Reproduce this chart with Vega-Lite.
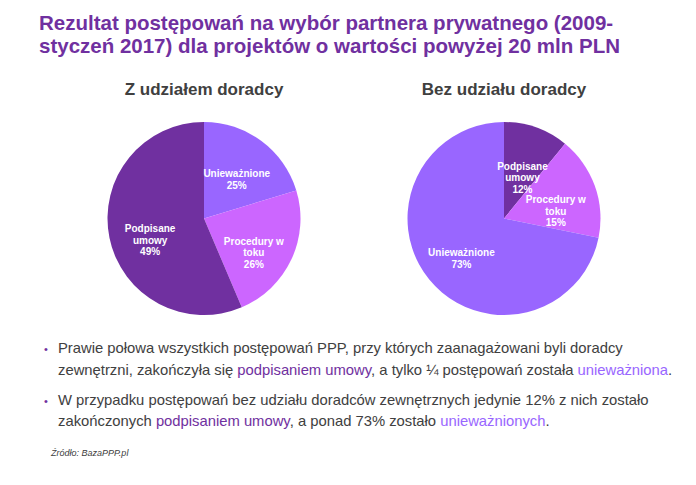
{
  "$schema": "https://vega.github.io/schema/vega-lite/v6.json",
  "background": "white",
  "padding": {"left": 39, "top": 13, "right": 0, "bottom": 0},
  "config": {
    "view": {"stroke": null},
    "font": "Liberation Sans",
    "style": {
      "para": {"align": "left", "baseline": "alphabetic", "dx": 12, "fontSize": 14.8, "font": "Liberation Sans", "lineBreak": "\n", "lineHeight": 21.5},
      "slice": {"align": "center", "baseline": "middle", "fontSize": 10, "fontWeight": "bold", "font": "Liberation Sans", "lineBreak": "\n", "lineHeight": 11.5, "radius": 55}
    }
  },
  "title": {
    "text": ["Rezultat postępowań na wybór partnera prywatnego (2009-", "styczeń 2017) dla projektów o wartości powyżej 20 mln PLN"],
    "anchor": "start",
    "frame": "group",
    "color": "#7030A0",
    "font": "Liberation Sans",
    "fontSize": 20.5,
    "fontWeight": "bold",
    "lineHeight": 23.5,
    "offset": 23
  },
  "spacing": 26,
  "vconcat": [
    {
      "bounds": "flush",
      "spacing": 0,
      "hconcat": [
        {
          "width": 330,
          "height": 193,
          "title": {"text": "Z udziałem doradcy", "anchor": "middle", "fontSize": 17, "fontWeight": "bold", "color": "#404040", "font": "Liberation Sans", "offset": 23.5},
          "data": {"values": [
            {"result": "Unieważnione", "share": 20.3, "label": "Unieważnione\n25%"},
            {"result": "Procedury w toku", "share": 23.3, "label": "Procedury w\ntoku\n26%"},
            {"result": "Podpisane umowy", "share": 56.4, "label": "Podpisane\numowy\n49%"}
          ]},
          "encoding": {
            "theta": {"field": "share", "type": "quantitative", "stack": true},
            "order": {"field": "result", "type": "ordinal", "sort": "descending"}
          },
          "layer": [
            {"mark": {"type": "arc"},
             "encoding": {"color": {"field": "result", "type": "nominal", "legend": null,
               "scale": {"domain": ["Podpisane umowy", "Procedury w toku", "Unieważnione"], "range": ["#7030A0", "#CC66FF", "#9966FF"]}}}},
            {"mark": {"type": "text", "style": "slice", "fill": "white"},
             "encoding": {"detail": {"field": "result"}, "text": {"field": "label"}}}
          ]
        },
        {
          "width": 270,
          "height": 193,
          "title": {"text": "Bez udziału doradcy", "anchor": "middle", "fontSize": 17, "fontWeight": "bold", "color": "#404040", "font": "Liberation Sans", "offset": 23.5},
          "data": {"values": [
            {"result": "Podpisane umowy", "share": 10.9, "label": "Podpisane\numowy\n12%"},
            {"result": "Procedury w toku", "share": 17.3, "label": "Procedury w\ntoku\n15%"},
            {"result": "Unieważnione", "share": 71.8, "label": "Unieważnione\n73%"}
          ]},
          "encoding": {
            "theta": {"field": "share", "type": "quantitative", "stack": true},
            "order": {"field": "result", "type": "ordinal", "sort": "ascending"}
          },
          "layer": [
            {"mark": {"type": "arc"},
             "encoding": {"color": {"field": "result", "type": "nominal", "legend": null,
               "scale": {"domain": ["Podpisane umowy", "Procedury w toku", "Unieważnione"], "range": ["#7030A0", "#CC66FF", "#9966FF"]}}}},
            {"mark": {"type": "text", "style": "slice", "fill": "white"},
             "encoding": {"detail": {"field": "result"}, "text": {"field": "label"}}}
          ]
        }
      ]
    },
    {
      "width": 14,
      "height": 103,
      "data": {"values": [
        {"para": "p1",
         "full": "Prawie połowa wszystkich postępowań PPP, przy których zaanagażowani byli doradcy\nzewnętrzni, zakończyła się podpisaniem umowy, a tylko ¼ postępowań została unieważniona.",
         "a": "Prawie połowa wszystkich postępowań PPP, przy których zaanagażowani byli doradcy\nzewnętrzni, zakończyła się podpisaniem umowy, a tylko ¼ postępowań została unieważniona",
         "b": "Prawie połowa wszystkich postępowań PPP, przy których zaanagażowani byli doradcy\nzewnętrzni, zakończyła się podpisaniem umowy, a tylko ¼ postępowań została ",
         "c": "Prawie połowa wszystkich postępowań PPP, przy których zaanagażowani byli doradcy\nzewnętrzni, zakończyła się podpisaniem umowy",
         "d": "Prawie połowa wszystkich postępowań PPP, przy których zaanagażowani byli doradcy\nzewnętrzni, zakończyła się "},
        {"para": "p2",
         "full": "W przypadku postępowań bez udziału doradców zewnętrznych jedynie 12% z nich zostało\nzakończonych podpisaniem umowy, a ponad 73% zostało unieważnionych.",
         "a": "W przypadku postępowań bez udziału doradców zewnętrznych jedynie 12% z nich zostało\nzakończonych podpisaniem umowy, a ponad 73% zostało unieważnionych",
         "b": "W przypadku postępowań bez udziału doradców zewnętrznych jedynie 12% z nich zostało\nzakończonych podpisaniem umowy, a ponad 73% zostało ",
         "c": "W przypadku postępowań bez udziału doradców zewnętrznych jedynie 12% z nich zostało\nzakończonych podpisaniem umowy",
         "d": "W przypadku postępowań bez udziału doradców zewnętrznych jedynie 12% z nich zostało\nzakończonych "},
        {"para": "src", "full": "Źródło: BazaPPP.pl"}
      ]},
      "encoding": {
        "y": {"field": "para", "type": "ordinal", "axis": null, "scale": {"type": "point", "padding": 0, "domain": ["p1", "p2", "src"]}}
      },
      "layer": [
        {"transform": [{"filter": "isValid(datum.a)"}], "mark": {"type": "text", "style": "para", "fill": "#404040"}, "encoding": {"text": {"field": "full"}}},
        {"transform": [{"filter": "isValid(datum.a)"}], "mark": {"type": "text", "style": "para", "fill": "white", "stroke": "white", "strokeWidth": 1.6}, "encoding": {"text": {"field": "a"}}},
        {"transform": [{"filter": "isValid(datum.a)"}], "mark": {"type": "text", "style": "para", "fill": "#9966FF"}, "encoding": {"text": {"field": "a"}}},
        {"transform": [{"filter": "isValid(datum.a)"}], "mark": {"type": "text", "style": "para", "fill": "white", "stroke": "white", "strokeWidth": 1.6}, "encoding": {"text": {"field": "b"}}},
        {"transform": [{"filter": "isValid(datum.a)"}], "mark": {"type": "text", "style": "para", "fill": "#404040"}, "encoding": {"text": {"field": "b"}}},
        {"transform": [{"filter": "isValid(datum.a)"}], "mark": {"type": "text", "style": "para", "fill": "white", "stroke": "white", "strokeWidth": 1.6}, "encoding": {"text": {"field": "c"}}},
        {"transform": [{"filter": "isValid(datum.a)"}], "mark": {"type": "text", "style": "para", "fill": "#7030A0"}, "encoding": {"text": {"field": "c"}}},
        {"transform": [{"filter": "isValid(datum.a)"}], "mark": {"type": "text", "style": "para", "fill": "white", "stroke": "white", "strokeWidth": 1.6}, "encoding": {"text": {"field": "d"}}},
        {"transform": [{"filter": "isValid(datum.a)"}], "mark": {"type": "text", "style": "para", "fill": "#404040"}, "encoding": {"text": {"field": "d"}}},
        {"transform": [{"filter": "isValid(datum.a)"}], "mark": {"type": "text", "align": "center", "baseline": "alphabetic", "fontSize": 11, "fill": "#7030A0", "font": "Liberation Sans"}, "encoding": {"text": {"value": "•"}}},
        {"transform": [{"filter": "!isValid(datum.a)"}], "mark": {"type": "text", "align": "left", "baseline": "alphabetic", "dx": 5, "fontSize": 9, "fontStyle": "italic", "fill": "#404040", "font": "Liberation Sans"}, "encoding": {"text": {"field": "full"}}}
      ]
    }
  ]
}
